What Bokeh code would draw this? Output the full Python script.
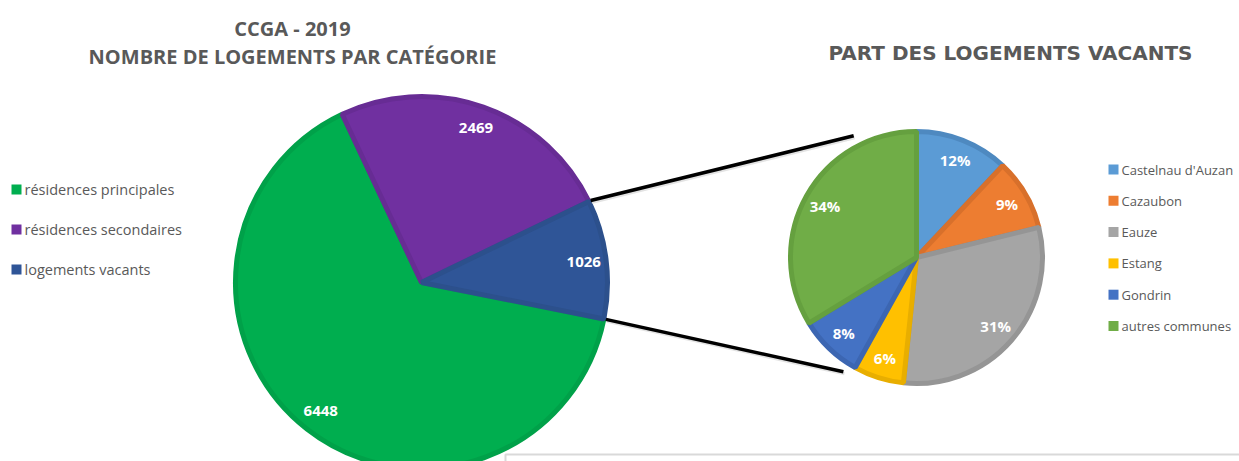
import math
from bokeh.plotting import figure
from bokeh.models import Range1d, ColumnDataSource
from bokeh.core.properties import value
from bokeh.embed import file_html
from bokeh.resources import INLINE

# ---------------- data ----------------
title_main = ["CCGA - 2019", "NOMBRE DE LOGEMENTS PAR CATÉGORIE"]
title_vac = "PART DES LOGEMENTS VACANTS"

cat_main = ["résidences principales", "résidences secondaires", "logements vacants"]
val_main = [6448, 2469, 1026]
col_main = ["#00AE4F", "#7030A0", "#2F5597"]
edge_main = ["#00A149", "#672C94", "#2C508C"]

cat_vac = ["Castelnau d'Auzan", "Cazaubon", "Eauze", "Estang", "Gondrin", "autres communes"]
val_vac = [123, 94, 313, 66, 84, 346]
col_vac = ["#5B9BD5", "#ED7D31", "#A5A5A5", "#FFC000", "#4472C4", "#70AD47"]
edge_vac = ["#4E89C0", "#D8702B", "#959595", "#E8AE00", "#3C66B2", "#65A03F"]

W, H = 1239, 461
FONT = "Open Sans"
GRAY = "#595959"

p = figure(width=W, height=H, x_range=Range1d(0, W), y_range=Range1d(0, H),
           output_backend="svg", toolbar_location=None, min_border=0)
p.axis.visible = False
p.grid.visible = False
p.outline_line_color = None
p.background_fill_color = "white"

def Y(y):
    return H - y

# ---------------- main pie ----------------
cx1, cy1, r1 = 421, Y(282), 188
tot1 = sum(val_main)
# drawn anticlockwise: vacants, secondaires, principales starting at -11.3 deg
order = [2, 1, 0]
a0 = math.radians(-11.3)
starts, ends = {}, {}
acc = a0
for i in order:
    starts[i] = acc
    acc += 2 * math.pi * val_main[i] / tot1
    ends[i] = acc
src1 = ColumnDataSource(dict(
    s=[starts[i] for i in range(3)], e=[ends[i] for i in range(3)],
    c=col_main, lc=edge_main))
p.wedge(x=cx1, y=cy1, radius=r1 - 2, start_angle="s", end_angle="e",
        fill_color="c", line_color="lc", line_width=5, source=src1)
lx, ly, lt = [], [], []
for i in range(3):
    m = (starts[i] + ends[i]) / 2
    lx.append(cx1 + 0.87 * r1 * math.cos(m))
    ly.append(cy1 + 0.87 * r1 * math.sin(m))
    lt.append(str(val_main[i]))
p.text(x=lx, y=ly, text=lt, text_color="white", text_font=value(FONT),
       text_font_style="bold", text_font_size="15px", text_align="center",
       text_baseline="middle")

# ---------------- second pie ----------------
cx2, cy2, r2 = 916, Y(257), 128
tot2 = sum(val_vac)
s2, e2 = [], []
cum = 0
for v in val_vac:
    e2.append(math.pi / 2 - 2 * math.pi * cum / tot2)
    cum += v
    s2.append(math.pi / 2 - 2 * math.pi * cum / tot2)
src2 = ColumnDataSource(dict(s=s2, e=e2, c=col_vac, lc=edge_vac))
p.wedge(x=cx2, y=cy2, radius=r2 - 2, start_angle="s", end_angle="e",
        fill_color="c", line_color="lc", line_width=5, source=src2)
lx, ly, lt = [], [], []
for i, v in enumerate(val_vac):
    m = (s2[i] + e2[i]) / 2
    lx.append(cx2 + 0.82 * r2 * math.cos(m))
    ly.append(cy2 + 0.82 * r2 * math.sin(m))
    lt.append(f"{round(100 * v / tot2)}%")
p.text(x=lx, y=ly, text=lt, text_color="white", text_font=value(FONT),
       text_font_style="bold", text_font_size="15px", text_align="center",
       text_baseline="middle")

# ---------------- connector lines ----------------
b_start, b_end = starts[2], ends[2]
u0 = (cx1 + r1 * math.cos(b_end), cy1 + r1 * math.sin(b_end))
l0 = (cx1 + r1 * math.cos(b_start), cy1 + r1 * math.sin(b_start))
u1 = (cx2 + 1.07 * r2 * math.cos(math.radians(117.3)), cy2 + 1.07 * r2 * math.sin(math.radians(117.3)))
l1 = (cx2 + 1.06 * r2 * math.cos(math.radians(237.4)), cy2 + 1.06 * r2 * math.sin(math.radians(237.4)))
for (a, b) in [(u0, u1), (l0, l1)]:
    p.line([a[0] + 1, b[0] + 1], [a[1] - 2, b[1] - 2], line_color="#d0d0d0", line_width=3, line_alpha=0.6)
    p.line([a[0], b[0]], [a[1], b[1]], line_color="black", line_width=3.5)

# ---------------- titles ----------------
p.text(x=[292, 292], y=[Y(28), Y(56)], text=title_main, text_color=GRAY,
       text_font=value(FONT), text_font_style="bold", text_font_size="20px",
       text_align="center", text_baseline="middle")
p.text(x=[1010], y=[Y(52)], text=[title_vac], text_color=GRAY,
       text_font=value("DejaVu Sans"), text_font_style="bold", text_font_size="20px",
       text_align="center", text_baseline="middle")

# ---------------- legends ----------------
leg1_y = [Y(189), Y(229), Y(269)]
p.scatter(x=[16] * 3, y=leg1_y, marker="square", size=10, fill_color=col_main,
          line_color=None)
p.text(x=[24] * 3, y=leg1_y, text=cat_main, text_color=GRAY, text_font=value(FONT),
       text_font_size="14.5px", text_baseline="middle")

leg2_y = [Y(169 + 31.3 * i) for i in range(6)]
p.scatter(x=[1113] * 6, y=leg2_y, marker="square", size=10, fill_color=col_vac,
          line_color=None)
p.text(x=[1121] * 6, y=leg2_y, text=cat_vac, text_color=GRAY, text_font=value(FONT),
       text_font_size="13px", text_baseline="middle")

# ---------------- neighbouring frame edge ----------------
p.line([505, 505, W], [0, Y(454), Y(454)], line_color="#d9d9d9", line_width=2)

open("out.html", "w").write(file_html(p, INLINE))
